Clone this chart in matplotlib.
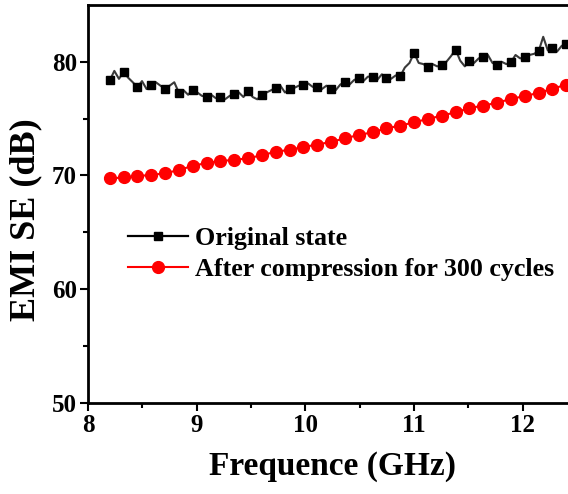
import numpy as np
import matplotlib
matplotlib.use('Agg')
import matplotlib.pyplot as plt

plt.rcParams['font.family'] = 'Liberation Serif'
plt.rcParams['font.weight'] = 'bold'
plt.rcParams['axes.labelweight'] = 'bold'

# 34 marker points, 8.2 - 12.4 GHz
freq = np.linspace(8.2, 12.4, 34)

after_300 = [69.74, 69.82, 69.96, 70.03, 70.20, 70.47, 70.85, 71.09, 71.26, 71.38,
             71.50, 71.79, 72.08, 72.26, 72.50, 72.72, 72.95, 73.27, 73.56, 73.80,
             74.15, 74.38, 74.68, 74.97, 75.26, 75.56, 75.92, 76.15, 76.39, 76.74,
             76.98, 77.27, 77.62, 78.00]

orig_markers = [78.36, 79.10, 77.77, 78.00, 77.62, 77.27, 77.56, 76.94, 76.89, 77.18,
                77.42, 77.12, 77.71, 77.62, 78.00, 77.77, 77.62, 78.21, 78.57, 78.66,
                78.57, 78.74, 80.78, 79.54, 79.68, 81.07, 80.04, 80.42, 79.74, 79.98,
                80.42, 80.92, 81.22, 81.60]

# two in-between readings of the noisy curve for each marker interval
orig_between = [(79.2, 78.5), (78.6, 78.2), (78.3, 77.6), (78.2, 77.9), (77.9, 78.2),
                (77.5, 77.1), (77.3, 77.0), (77.1, 76.8), (76.7, 77.0), (77.3, 76.9),
                (76.9, 76.7), (77.3, 77.5), (77.9, 77.3), (77.7, 77.9), (78.1, 77.8),
                (77.6, 77.9), (77.5, 78.0), (78.0, 78.4), (78.3, 78.7), (78.4, 78.9),
                (78.5, 78.8), (79.5, 79.9), (79.9, 79.8), (79.8, 79.6), (80.0, 80.5),
                (80.1, 79.6), (79.9, 80.3), (80.6, 79.9), (80.0, 79.8), (80.6, 80.3),
                (80.6, 80.7), (82.2, 81.0), (80.9, 81.4)]

orig_line = []
for i in range(len(orig_between)):
    orig_line.append(orig_markers[i])
    orig_line.extend(orig_between[i])
orig_line.append(orig_markers[-1])
freq_fine = np.linspace(8.2, 12.4, len(orig_line))

fig = plt.figure(figsize=(5.68, 4.94), dpi=100)
ax = fig.add_axes([0.1549, 0.1848, 0.8612, 0.8051])

ax.plot(freq_fine, orig_line, color='#3a3a3a', lw=1.5, zorder=2)
ax.plot(freq, orig_markers, ls='none', marker='s', ms=6, color='black', zorder=3)
ax.plot(freq, after_300, '-o', color='red', lw=1.5, ms=8.5, zorder=3)

# legend handles
h1, = ax.plot([], [], '-s', color='black', lw=1.6, ms=6, mfc='black')
h2, = ax.plot([], [], '-o', color='red', lw=1.5, ms=8.5)
ax.legend([h1, h2], ['Original state', 'After compression for 300 cycles'],
          loc='upper left', bbox_to_anchor=(0.056, 0.474), frameon=False,
          fontsize=18.7, handlelength=2.3, handletextpad=0.27, labelspacing=0.3,
          borderpad=0)

ax.set_xlim(8, 12.5)
ax.set_ylim(50, 85)
ax.set_xticks([8, 9, 10, 11, 12])
ax.set_yticks([50, 60, 70, 80])
ax.set_xticks(np.arange(8.5, 12.6, 1), minor=True)
ax.set_yticks([55, 65, 75], minor=True)
ax.tick_params(which='major', direction='out', length=6, width=1.5, labelsize=18, pad=2)
ax.tick_params(which='minor', direction='out', length=3.5, width=1.5)
for s in ax.spines.values():
    s.set_linewidth(2)

ax.set_xlabel('Frequence (GHz)', fontsize=24, labelpad=10)
ax.set_ylabel('EMI SE (dB)', fontsize=26)
ax.yaxis.set_label_coords(-0.094, 0.46)

fig.savefig('out.png', dpi=100)
